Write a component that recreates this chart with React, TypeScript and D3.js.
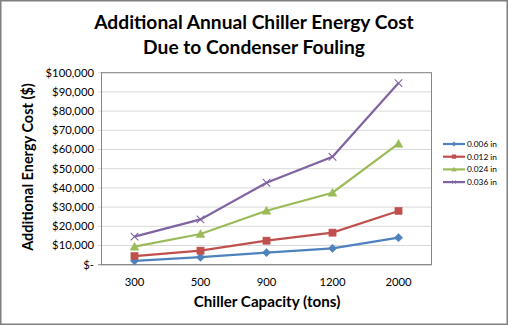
import React from "react";
import * as d3 from "d3";

const categories = ["300", "500", "900", "1200", "2000"];
const seriesNames = ["0.006 in", "0.012 in", "0.024 in", "0.036 in"];
const s006 = [2000, 3900, 6300, 8500, 14100];
const s012 = [4500, 7300, 12500, 16700, 28000];
const s024 = [9400, 16000, 28100, 37500, 63000];
const s036 = [14600, 23600, 42700, 56200, 94600];
const yTicks = [0, 10000, 20000, 30000, 40000, 50000, 60000, 70000, 80000, 90000, 100000];
const colors = ["#4F81BD", "#C0504D", "#9BBB59", "#8064A2"];
const markers = ["diamond", "square", "triangle", "x"];

const W = 508, H = 325;
const plot = { left: 101.5, right: 431.5, top: 72.7, bottom: 264.7 };
const FONT = "Lato, 'Open Sans', sans-serif";

function Marker({ type, x, y, color }: { type: string; x: number; y: number; color: string }) {
  if (type === "diamond") {
    const s = 4.2;
    return <path d={`M${x},${y - s}L${x + s},${y}L${x},${y + s}L${x - s},${y}Z`} fill={color} stroke={color} strokeWidth={0.5} />;
  }
  if (type === "square") {
    const s = 3.6;
    return <rect x={x - s} y={y - s} width={2 * s} height={2 * s} fill={color} stroke={color} strokeWidth={0.5} />;
  }
  if (type === "triangle") {
    const s = 4.4;
    return <path d={`M${x},${y - s}L${x + s},${y + s * 0.8}L${x - s},${y + s * 0.8}Z`} fill={color} stroke={color} strokeWidth={0.5} />;
  }
  const s = 3.8;
  return <path d={`M${x - s},${y - s}L${x + s},${y + s}M${x - s},${y + s}L${x + s},${y - s}`} stroke={color} strokeWidth={1.1} fill="none" />;
}

export default function App() {
  const data = [s006, s012, s024, s036];
  const x = d3.scaleBand<string>().domain(categories).range([plot.left, plot.right]);
  const y = d3.scaleLinear().domain([0, 100000]).range([plot.bottom, plot.top]);
  const cx = (c: string) => (x(c) as number) + x.bandwidth() / 2;
  const line = d3
    .line<number>()
    .x((_, i) => cx(categories[i]))
    .y((d) => y(d));
  const fmt = (v: number) => (v === 0 ? "$-" : "$" + d3.format(",")(v));

  return (
    <svg width={W} height={H} style={{ position: "absolute", left: 0, top: 0 }} fontFamily={FONT}>
      <rect x={0} y={0} width={W} height={H} fill="#fff" />
      <rect x={0.75} y={0.75} width={W - 1.5} height={H - 1.5} fill="none" stroke="#7f7f7f" strokeWidth={1.5} />
      <text x={254} y={28.5} textAnchor="middle" fontSize={19.2} fontWeight="bold" fill="#000">
        Additional Annual Chiller Energy Cost
      </text>
      <text x={254} y={53.5} textAnchor="middle" fontSize={19.2} fontWeight="bold" fill="#000">
        Due to Condenser Fouling
      </text>
      {yTicks.map((t) => (
        <g key={t}>
          <line x1={plot.left - 3.5} x2={plot.right} y1={y(t)} y2={y(t)} stroke={t === 0 ? "#868686" : "#d9d9d9"} strokeWidth={1} />
          <text x={94} y={y(t)} dy="0.35em" textAnchor="end" fontSize={11.3} fill="#000">
            {fmt(t)}
          </text>
        </g>
      ))}
      <line x1={plot.left} x2={plot.left} y1={plot.top} y2={plot.bottom} stroke="#868686" />
      <rect x={plot.left} y={plot.top} width={plot.right - plot.left} height={plot.bottom - plot.top} fill="none" stroke="#868686" strokeWidth={1} />
      {categories.map((c) => (
        <text key={c} x={cx(c)} y={282} dy="0.35em" textAnchor="middle" fontSize={11.3} fill="#000">
          {c}
        </text>
      ))}
      <text x={267} y={307} textAnchor="middle" fontSize={15.2} fontWeight="bold" fill="#000">
        Chiller Capacity (tons)
      </text>
      <text transform={`translate(33,167) rotate(-90)`} textAnchor="middle" fontSize={14.5} fontWeight="bold" fill="#000">
        Additional Energy Cost ($)
      </text>
      {data.map((vals, si) => (
        <g key={si}>
          <path d={line(vals) || ""} fill="none" stroke={colors[si]} strokeWidth={2.2} />
          {vals.map((v, i) => (
            <Marker key={i} type={markers[si]} x={cx(categories[i])} y={y(v)} color={colors[si]} />
          ))}
        </g>
      ))}
      {seriesNames.map((n, i) => {
        const ly = 144 + i * 12.7;
        return (
          <g key={n}>
            <line x1={443} x2={465} y1={ly} y2={ly} stroke={colors[i]} strokeWidth={2.2} />
            <g transform={`translate(454,${ly}) scale(0.55) translate(-454,${-ly})`}>
              <Marker type={markers[i]} x={454} y={ly} color={colors[i]} />
            </g>
            <text x={467} y={ly} dy="0.35em" fontSize={8.3} fill="#000">
              {n}
            </text>
          </g>
        );
      })}
    </svg>
  );
}
